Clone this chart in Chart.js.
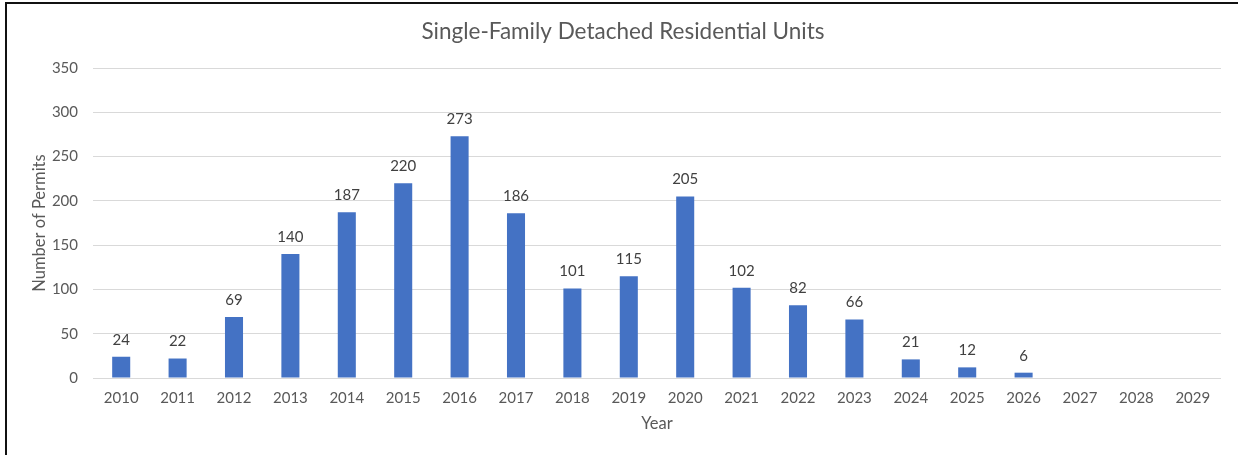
<!DOCTYPE html>
<html>
<head>
<meta charset="utf-8">
<script src="https://cdn.jsdelivr.net/npm/chart.js@4.4.1/dist/chart.umd.min.js"></script>
<style>
  html, body { margin: 0; padding: 0; background: #fff; overflow: hidden; }
  #wrap { position: relative; width: 1238px; height: 455px; }
  #frame { position: absolute; left: 5px; top: 2px; width: 1300px; height: 500px;
           border-left: 2px solid #111; border-top: 2px solid #111; box-sizing: border-box; pointer-events: none; }
  canvas { position: absolute; left: 0; top: 0; }
</style>
</head>
<body>
<div id="wrap">
  <canvas id="c" width="1238" height="455"></canvas>
  <div id="frame"></div>
</div>
<script>
const years = ['2010','2011','2012','2013','2014','2015','2016','2017','2018','2019',
               '2020','2021','2022','2023','2024','2025','2026','2027','2028','2029'];
const permits = [24, 22, 69, 140, 187, 220, 273, 186, 101, 115,
                 205, 102, 82, 66, 21, 12, 6, null, null, null];
const yTicks = { min: 0, max: 350, step: 50 };
const chartTitle = 'Single-Family Detached Residential Units';
const xTitle = 'Year';
const yTitle = 'Number of Permits';

const FONT = 'Lato, "Open Sans", sans-serif';
const TXT = '#595959';

const labelPlugin = {
  id: 'barLabels',
  afterDatasetsDraw(chart) {
    const ctx = chart.ctx;
    const meta = chart.getDatasetMeta(0);
    ctx.save();
    ctx.font = '15px ' + FONT;
    ctx.fillStyle = '#404040';
    ctx.textAlign = 'center';
    ctx.textBaseline = 'middle';
    meta.data.forEach((el, i) => {
      const v = chart.data.datasets[0].data[i];
      if (v === null || v === undefined) return;
      ctx.fillText(String(v), el.x, el.y - 17);
    });
    // chart title, centred over the framed area
    ctx.font = '22.5px ' + FONT;
    ctx.fillStyle = TXT;
    ctx.fillText(chartTitle, 623, 32);
    ctx.restore();
  }
};

new Chart(document.getElementById('c'), {
  type: 'bar',
  data: {
    labels: years,
    datasets: [{
      data: permits,
      backgroundColor: '#4472C4',
      borderWidth: 0,
      categoryPercentage: 1.0,
      barPercentage: 0.32
    }]
  },
  options: {
    responsive: false,
    animation: false,
    layout: { padding: { left: 0, right: 17, top: 68, bottom: 0 } },
    plugins: {
      legend: { display: false },
      tooltip: { enabled: false },
      title: { display: false }
    },
    scales: {
      x: {
        grid: { display: false, drawTicks: false },
        border: { display: false },
        ticks: { color: TXT, font: { family: FONT, size: 15 }, padding: 11, maxRotation: 0, autoSkip: false },
        title: { display: true, text: xTitle, color: TXT, font: { family: FONT, size: 16.5 }, padding: { top: 0, bottom: 21 } },
        afterFit(scale) { scale.height = 77; }
      },
      y: {
        min: yTicks.min,
        max: yTicks.max,
        grid: { color: '#D9D9D9', lineWidth: 1, drawTicks: false },
        border: { display: false },
        ticks: { stepSize: yTicks.step, color: TXT, font: { family: FONT, size: 15 }, padding: 15 },
        title: { display: true, text: yTitle, color: TXT, font: { family: FONT, size: 16.5 }, padding: { top: 30, bottom: 0 } },
        afterFit(scale) { scale.width = 93; }
      }
    }
  },
  plugins: [labelPlugin]
});
</script>
</body>
</html>
